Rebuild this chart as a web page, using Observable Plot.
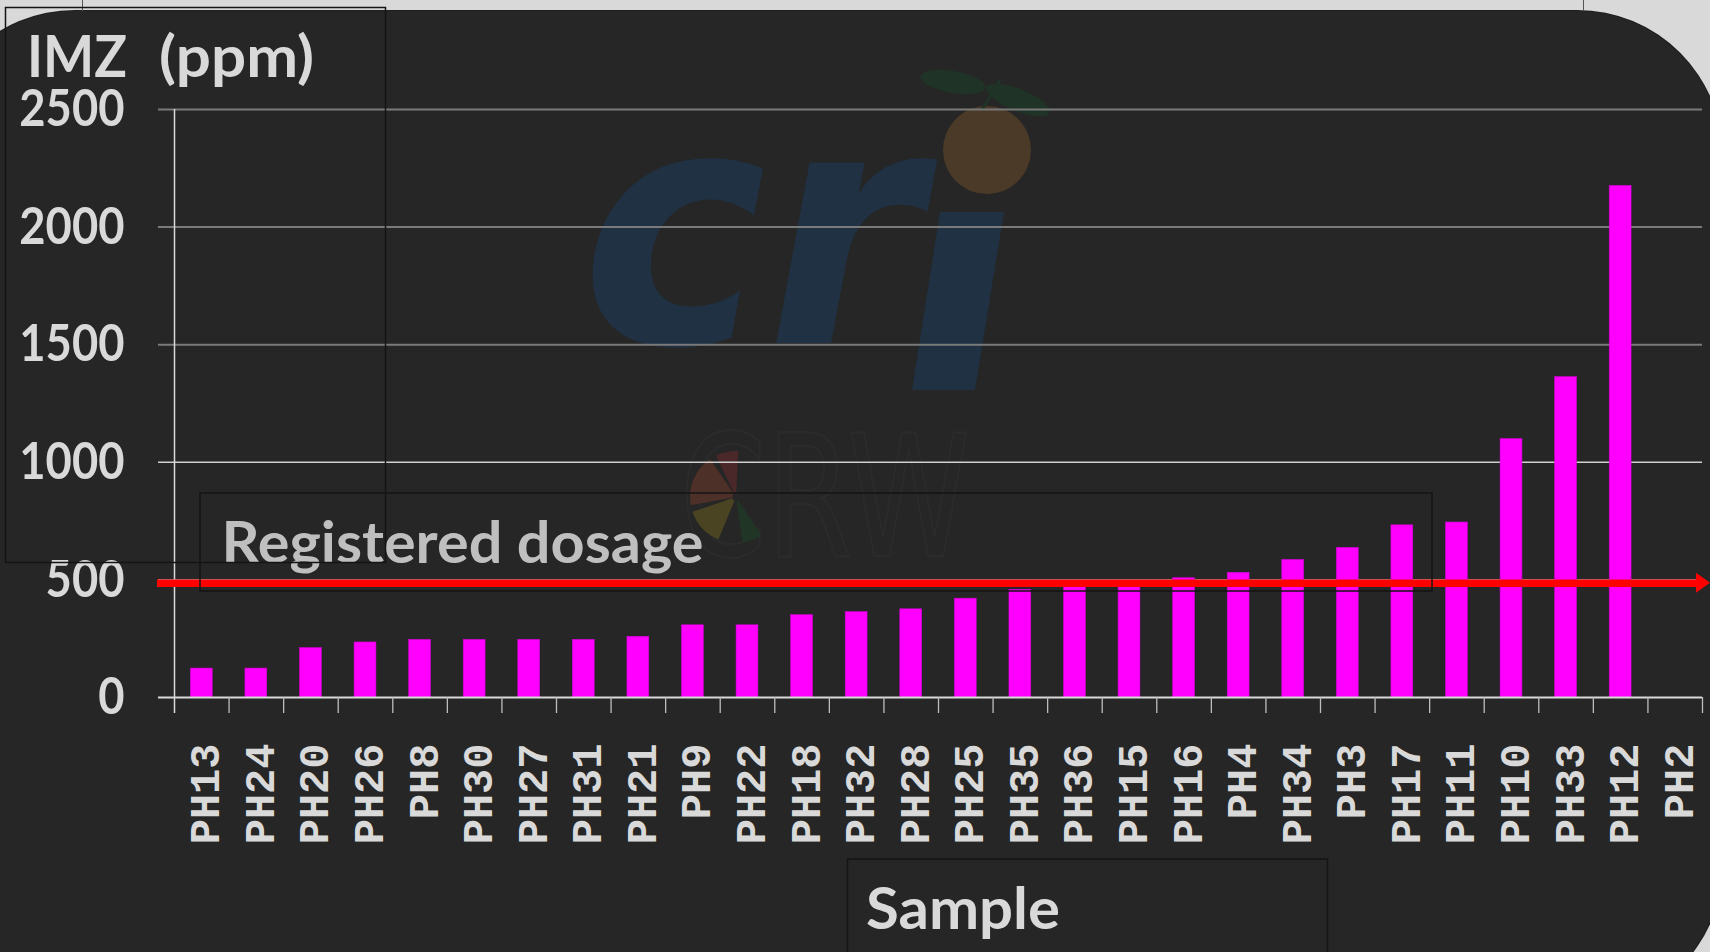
<!DOCTYPE html>
<html><head><meta charset="utf-8">
<script src="https://cdn.jsdelivr.net/npm/d3@7"></script>
<script src="https://cdn.jsdelivr.net/npm/@observablehq/plot@0.6"></script>
<style>
html,body{margin:0;padding:0;background:#d9d9d9;overflow:hidden;}
#wrap{position:relative;width:1710px;height:952px;overflow:hidden;}
#panel{position:absolute;left:-70px;top:11px;width:1792px;height:998px;border-radius:145px;background:#262626;box-shadow:0 0 0 1px #1e1e1e;}
#topbox{position:absolute;left:82px;top:-2px;width:1500px;height:12px;border:1px solid #555;border-bottom:none;}
#chart{position:absolute;left:0;top:0;}
</style></head><body>
<div id="wrap"><div id="panel"></div><div id="topbox"></div><div id="chart"></div></div>
<script>
// ---- data ----
const samples = ["PH13","PH24","PH20","PH26","PH8","PH30","PH27","PH31","PH21","PH9","PH22","PH18","PH32","PH28","PH25","PH35","PH36","PH15","PH16","PH4","PH34","PH3","PH17","PH11","PH10","PH33","PH12","PH2"];
const imzPpm = [123,123,210,234,245,245,245,245,258,307,307,350,363,375,420,458,480,483,507,530,585,636,732,744,1099,1362,2175,0];
const yTickValues = [0,500,1000,1500,2000,2500];
const registeredDosage = [486];
const yAxisTitleParts = ["IMZ", "(ppm)"];
const xAxisTitle = "Sample";
const dosageLabel = "Registered dosage";

const data = samples.map((s, i) => ({sample: s, imz: imzPpm[i]}));

const W = 1710, H = 952, mL = 174, mR = 8, mT = 109, mB = 255;
const step = (W - mL - mR) / samples.length;
const light = "#d9d9d9";

const chart = Plot.plot({
  width: W, height: H,
  marginLeft: mL, marginRight: mR, marginTop: mT, marginBottom: mB,
  style: {background: "transparent", color: light, fontFamily: "Lato, 'Open Sans', sans-serif", overflow: "visible"},
  x: {type: "band", domain: samples, paddingInner: 0.6, paddingOuter: 0.3, round: false, label: null},
  y: {domain: [0, 2500], label: null},
  marks: [
    Plot.ruleY(yTickValues.filter(v => v > 0), {
      y: d => d,
      stroke: d => d <= 1000 ? "#d0d0d0" : "#7a7a7a",
      strokeWidth: d => d <= 1000 ? 1.4 : 2,
      insetLeft: -16
    }),
    Plot.barY(data, {x: "sample", y: "imz", fill: "#ff00ff", stroke: "#d400d4", strokeWidth: 0.6}),
    Plot.ruleY([0], {stroke: light, strokeWidth: 2, insetLeft: -16}),
    Plot.ruleX([samples[0]], {x: d => d, y1: 2500, y2: 0, dx: -step / 2, stroke: light, strokeWidth: 1.5, insetBottom: -16}),
    Plot.ruleX(samples.slice(1), {x: d => d, y1: 0, y2: 0, dx: -step / 2, stroke: "#bdbdbd", strokeWidth: 1.3, insetBottom: -16}),
    Plot.ruleX([samples[samples.length - 1]], {x: d => d, y1: 0, y2: 0, dx: step / 2, stroke: "#bdbdbd", strokeWidth: 1.3, insetBottom: -16}),
    Plot.ruleY(registeredDosage, {y: d => d, stroke: "#ff0000", strokeWidth: 7.5, insetLeft: -17, insetRight: 4}),
    Plot.text(registeredDosage, {y: d => d, text: () => dosageLabel, frameAnchor: "left", textAnchor: "start", lineAnchor: "bottom", dx: 47, dy: -20, fontSize: 57, fontWeight: "bold", fill: "#bfbfbf"}),
    Plot.axisY(yTickValues, {tickSize: 0, tickPadding: 50, tickFormat: d => String(d), fontSize: 52, fontWeight: "bold", fill: light, label: null}),
    Plot.axisX({tickSize: 0, tickPadding: 46, tickRotate: -90, dx: 4, fontSize: 42, fontWeight: "bold", fontFamily: "'Liberation Mono', 'DejaVu Sans Mono', monospace", fill: light, label: null})
  ]
});

document.getElementById("chart").appendChild(chart);
const svg = d3.select(chart);
const yScale = chart.scale("y");

// watermark (behind everything)
const wm = svg.insert("g", "g").attr("text-anchor", "start");
wm.append("text").attr("x", 581).attr("y", 343).attr("font-family", "'DejaVu Sans', sans-serif")
  .attr("font-weight", "bold").attr("font-style", "italic").attr("font-size", 330)
  .attr("fill", "#1f3142").attr("textLength", 340).attr("lengthAdjust", "spacingAndGlyphs").text("cr");
wm.append("polygon").attr("points", "940,212 1004,212 975,390 912,390").attr("fill", "#1f3142");
wm.append("circle").attr("cx", 987).attr("cy", 150).attr("r", 44).attr("fill", "#4b3a27");
wm.append("ellipse").attr("cx", 953).attr("cy", 82).attr("rx", 33).attr("ry", 11).attr("transform", "rotate(10 953 82)").attr("fill", "#1f3327");
wm.append("ellipse").attr("cx", 1018).attr("cy", 100).attr("rx", 34).attr("ry", 11).attr("transform", "rotate(22 1018 100)").attr("fill", "#1f3327");
wm.append("line").attr("x1", 982).attr("y1", 110).attr("x2", 1000).attr("y2", 80).attr("stroke", "#1f3327").attr("stroke-width", 3);
wm.append("text").attr("x", 680).attr("y", 556).attr("font-family", "'DejaVu Sans', sans-serif")
  .attr("font-size", 170).attr("fill", "none").attr("stroke", "#2b2b2b").attr("stroke-width", 2.5)
  .attr("textLength", 290).attr("lengthAdjust", "spacingAndGlyphs").text("CRW");
const arc = d3.arc().innerRadius(4).outerRadius(46);
const wedges = [[-0.45, 0.05, "#4a2829"], [-1.75, -0.6, "#4d3028"], [-2.75, -1.9, "#4a4422"], [2.55, 3.0, "#203526"]];
const pie = wm.append("g").attr("transform", "translate(736,497)");
wedges.forEach(([a0, a1, c]) => pie.append("path").attr("d", arc({startAngle: a0, endAngle: a1})).attr("fill", c));

// y tick labels narrower, like the original face
svg.selectAll('g[aria-label="y-axis tick label"] text').each(function() {
  const t = d3.select(this); t.attr("textLength", 26.3 * t.text().length).attr("lengthAdjust", "spacingAndGlyphs");
});
svg.selectAll('g[aria-label="text"] text').attr("textLength", 482).attr("lengthAdjust", "spacingAndGlyphs");

// arrow head at the end of the registered dosage line
const ry = yScale.apply(registeredDosage[0]);
svg.append("polygon").attr("points", `${W - 14},${ry - 10} ${W},${ry} ${W - 14},${ry + 10}`).attr("fill", "#ff0000");

// titles
const tfont = "Lato, 'Open Sans', sans-serif";
const tg = svg.append("g").attr("text-anchor", "start").attr("font-family", tfont).attr("font-weight", "bold").attr("fill", light);
tg.append("text").attr("x", 27).attr("y", 77).attr("font-size", 58)
  .attr("textLength", 100).attr("lengthAdjust", "spacingAndGlyphs").text(yAxisTitleParts[0]);
tg.append("text").attr("x", 159).attr("y", 77).attr("font-size", 58)
  .attr("textLength", 155).attr("lengthAdjust", "spacingAndGlyphs").text(yAxisTitleParts[1]);
tg.append("text").attr("x", 866).attr("y", 929).attr("font-size", 57)
  .attr("textLength", 194).attr("lengthAdjust", "spacingAndGlyphs").text(xAxisTitle);

// text-box outlines
const boxes = [[5.5, 7.5, 380, 555], [200, 493, 1232, 98], [847.5, 859, 480, 120]];
boxes.forEach(([x, y, w, h]) => svg.append("rect").attr("x", x).attr("y", y).attr("width", w).attr("height", h)
  .attr("fill", "none").attr("stroke", "#141414").attr("stroke-width", 1.5));
</script>
</body></html>
